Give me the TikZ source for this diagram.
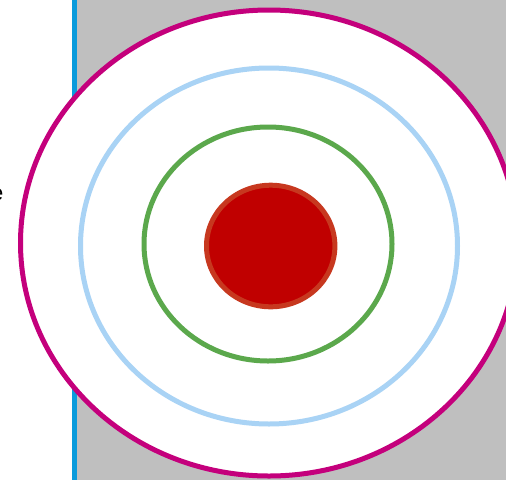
\documentclass[tikz,border=0pt]{standalone}
\usepackage{fontspec}
\setmainfont{Liberation Sans}
\definecolor{bggray}{HTML}{BFBFBF}
\definecolor{vblue}{HTML}{0A9BDC}
\definecolor{magentaring}{HTML}{C4007C}
\definecolor{lightring}{HTML}{A9D3F5}
\definecolor{greenring}{HTML}{5BA84C}
\definecolor{redfill}{HTML}{C00000}
\definecolor{redline}{HTML}{C7381F}
\begin{document}
\begin{tikzpicture}[x=1pt,y=-1pt,
  ring/.style={line width=5pt}]
\useasboundingbox (0,0) rectangle (506,480);
\fill[bggray] (77,0) rectangle (506,480);
\draw[vblue,line width=5pt] (74,0) coordinate (vtop) -- (74,480) coordinate (vbot);
\path[ring,draw=magentaring,fill=white] (269,243) ellipse [x radius=248.5,y radius=233];
\path[ring,draw=lightring] (269,246) ellipse [x radius=188.5,y radius=178];
\path[ring,draw=greenring] (268,244) ellipse [x radius=124,y radius=117];
\path[ring,draw=redline,fill=redfill] (270.7,246) ellipse [x radius=64.2,y radius=60.8];
\node[anchor=base east,inner sep=0pt,font=\fontsize{22}{26}\selectfont] (lbl) at (3.5,200) {e};
\end{tikzpicture}
\end{document}
